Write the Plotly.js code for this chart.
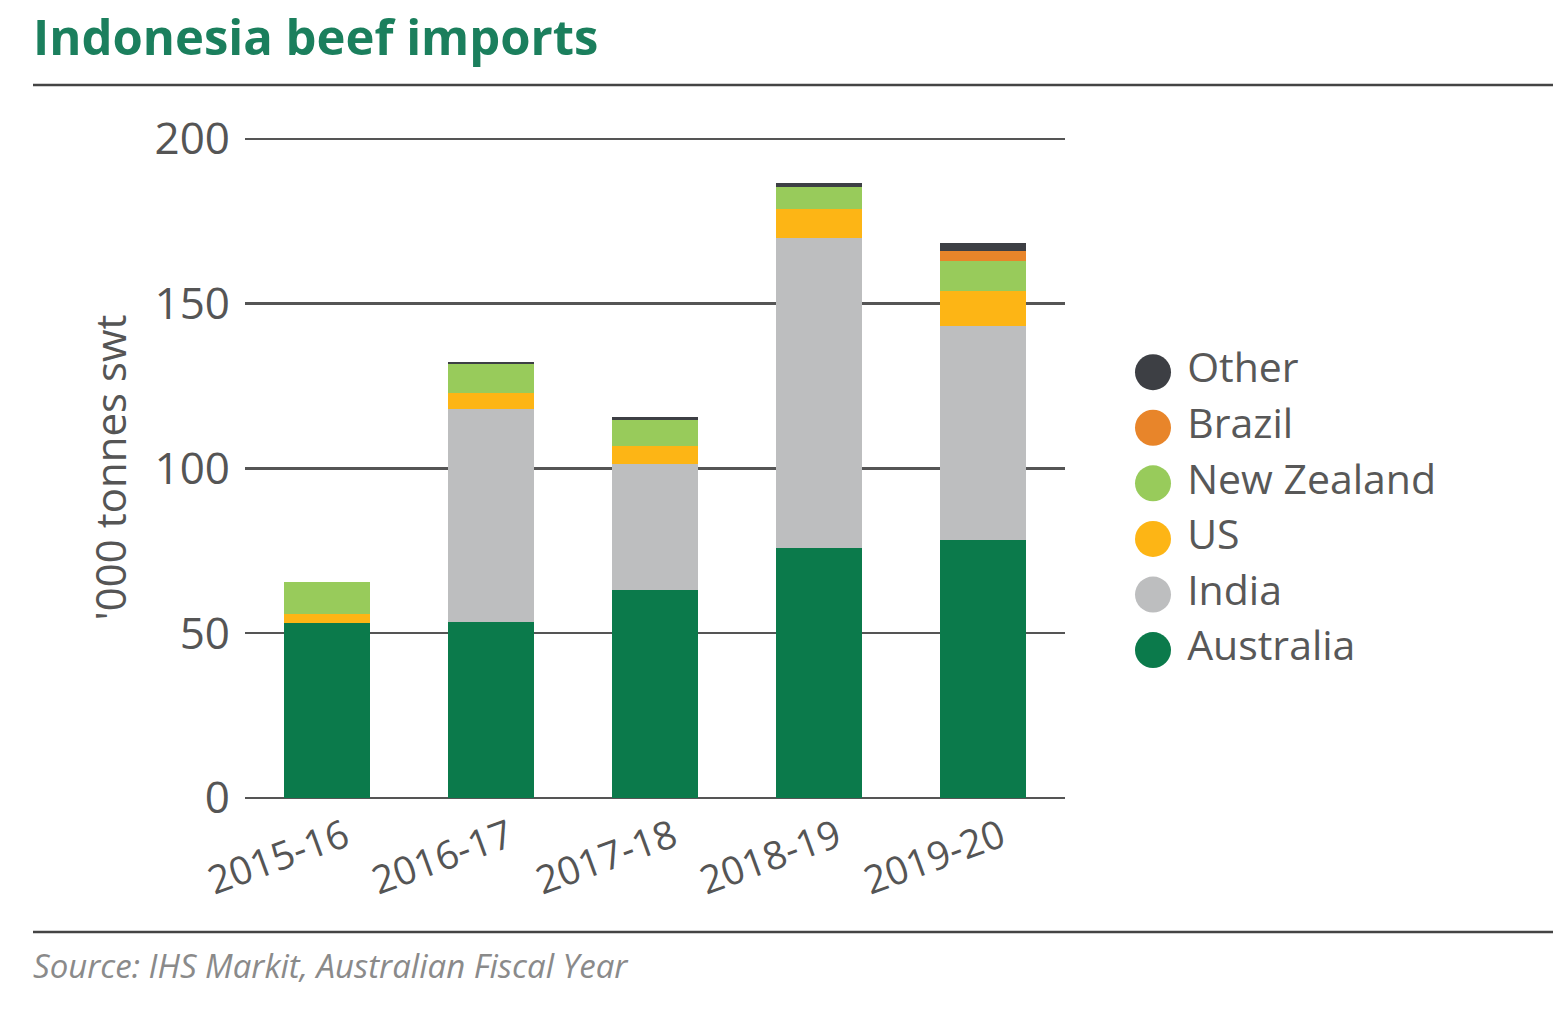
<!DOCTYPE html>
<html>
<head>
<meta charset="utf-8">
<script src="https://cdn.plot.ly/plotly-3.0.1.min.js"></script>
<style>html,body{margin:0;padding:0;background:#fff;}#chart{width:1553px;height:1017px;}</style>
</head>
<body>
<div id="chart"></div>
<script>
// ---- Data ----
const years = ["2015-16", "2016-17", "2017-18", "2018-19", "2019-20"];
const australia = [53.0, 53.3, 63.2, 75.9, 78.3];
const india = [0, 64.7, 38.1, 94.1, 64.9];
const us = [2.9, 5.0, 5.6, 8.8, 10.6];
const newZealand = [9.6, 8.6, 7.8, 6.6, 9.1];
const brazil = [0, 0, 0, 0, 3.1];
const other = [0, 0.7, 0.8, 1.3, 2.5];
const seriesNames = ["Australia", "India", "US", "New Zealand", "Brazil", "Other"];
const yTicks = [0, 50, 100, 150, 200];

// ---- Style ----
const colors = ["#0b7a4b", "#bdbebf", "#fdb515", "#98cb5b", "#e8852a", "#3d3f44"];
const seriesValues = [australia, india, us, newZealand, brazil, other];
const W = 1553, H = 1017;
const mL = 245, mR = 10, mT = 137, mB = 219;
const pw = W - mL - mR, ph = H - mT - mB;
const px = x => (x - mL) / pw;      // pixel x -> paper x
const py = y => (H - mB - y) / ph;  // pixel y -> paper y
const font = "Open Sans, Roboto, sans-serif";

const traces = seriesNames.map((n, i) => ({
  type: "bar", name: n, x: years, y: seriesValues[i],
  marker: {color: colors[i], line: {width: 0}},
  showlegend: false, hoverinfo: "x+y+name"
}));

// Legend drawn as a scatter on its own axes (circles + labels), top = Other
const legIdx = seriesNames.map((_, i) => i);
traces.push({
  type: "scatter", mode: "markers+text",
  x: seriesNames.map(() => 0), y: legIdx,
  text: seriesNames.map(n => "\u00a0" + n), textposition: "middle right",
  textfont: {family: font, size: 41, color: "#585858"},
  marker: {size: 36, color: colors, line: {width: 0}},
  xaxis: "x2", yaxis: "y2", showlegend: false, hoverinfo: "skip", cliponaxis: false
});

const layout = {
  width: W, height: H,
  margin: {l: mL, r: mR, t: mT, b: mB, pad: 0},
  paper_bgcolor: "#fff", plot_bgcolor: "#fff",
  barmode: "stack", bargap: 0.475,
  showlegend: false,
  title: {
    text: "<b>Indonesia beef imports</b>",
    x: 33 / W, xref: "container", xanchor: "left",
    y: 1 - 38 / H, yref: "container", yanchor: "middle",
    font: {family: font, size: 49, color: "#1b7f5d"}
  },
  xaxis: {
    domain: [0, px(1065)], type: "category",
    tickangle: -20, showgrid: false, zeroline: false, showline: false,
    ticks: "", tickfont: {family: font, size: 39, color: "#555"},
    ticklabelstandoff: 8, ticklabelshift: 18
  },
  yaxis: {
    domain: [0, 1], range: [0, 200.6], tickvals: yTicks,
    showgrid: true, gridcolor: "#555", gridwidth: 2.5,
    zeroline: true, zerolinecolor: "#555", zerolinewidth: 2.5,
    showline: false, ticks: "",
    tickfont: {family: font, size: 44, color: "#555"},
    ticklabelstandoff: 14,
    title: {text: "'000 tonnes swt", font: {family: font, size: 42, color: "#555"}, standoff: 14}
  },
  xaxis2: {domain: [px(1153), 1], range: [0, 1], visible: false, fixedrange: true},
  yaxis2: {domain: [0, 1], range: [-2.66, 9.23], visible: false, anchor: "x2", fixedrange: true},
  shapes: [
    {type: "line", xref: "paper", yref: "paper", x0: px(33), x1: px(1553), y0: py(85), y1: py(85),
     line: {color: "#444", width: 2.5}},
    {type: "line", xref: "paper", yref: "paper", x0: px(33), x1: px(1553), y0: py(932), y1: py(932),
     line: {color: "#444", width: 2.5}}
  ],
  annotations: [
    {xref: "paper", yref: "paper", x: px(31), y: py(965), xanchor: "left", yanchor: "middle",
     showarrow: false, text: "Source: IHS Markit, Australian Fiscal Year",
     font: {family: font, size: 33, color: "#8a8a8a", style: "italic"}}
  ]
};
Plotly.newPlot("chart", traces, layout, {displayModeBar: false, staticPlot: true});
</script>
</body>
</html>
